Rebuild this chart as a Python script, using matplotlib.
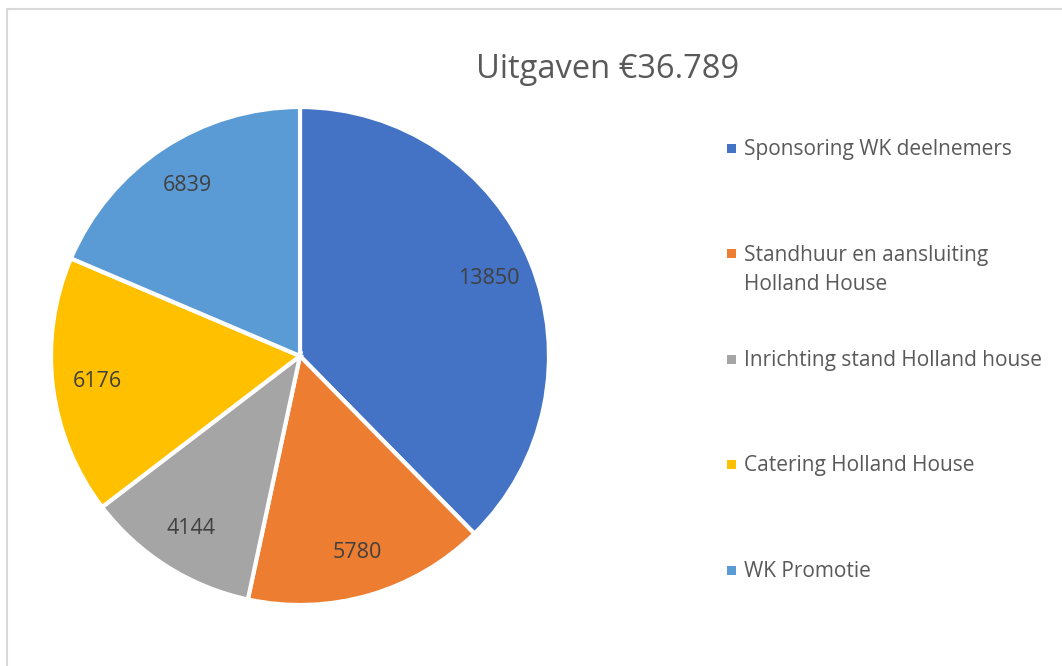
import matplotlib.pyplot as plt
from matplotlib.patches import Rectangle

plt.rcParams['font.family'] = ['Open Sans', 'DejaVu Sans']

categories = [
    "Sponsoring WK deelnemers",
    "Standhuur en aansluiting\nHolland House",
    "Inrichting stand Holland house",
    "Catering Holland House",
    "WK Promotie",
]
values = [13850, 5780, 4144, 6176, 6839]
colors = ["#4472C4", "#ED7D31", "#A5A5A5", "#FFC000", "#5B9BD5"]
title = "Uitgaven €36.789"

W, H = 1062, 666
fig = plt.figure(figsize=(W / 100, H / 100), dpi=100)

# light grey chart border (right/bottom cut off like in the screenshot)
fig.patches.append(Rectangle((7 / W, -0.05), 1.1, 1 - 9 / H + 0.05,
                             transform=fig.transFigure, fill=False,
                             edgecolor="#D9D9D9", linewidth=1.5))

# pie axes: center ~(300, 356) px, radius ~249 px
cx, cy, r = 300, 356, 249
ax = fig.add_axes([(cx - r) / W, (H - cy - r) / H, 2 * r / W, 2 * r / H])
total = sum(values)
wedges, texts, autotexts = ax.pie(
    values, colors=colors, startangle=90, counterclock=False,
    autopct=lambda p: f"{round(p * total / 100)}", pctdistance=0.82,
    wedgeprops=dict(edgecolor="white", linewidth=3),
    textprops=dict(color="#404040", fontsize=15.5))
for w in wedges:
    w.set_clip_on(False)
ax.set_xlim(-1, 1)
ax.set_ylim(-1, 1)
ax.set_aspect("equal")
ax.axis("off")

fig.text(608 / W, 1 - 69 / H, title, ha="center", va="center",
         fontsize=23.5, color="#595959")

# legend, drawn by hand to mimic Excel's even spacing
y0, step = 148, 105.5
for i, (lab, col) in enumerate(zip(categories, colors)):
    y = y0 + i * step
    fig.patches.append(Rectangle((727 / W, 1 - (y + 4.5) / H), 9 / W, 9 / H,
                                 transform=fig.transFigure, facecolor=col,
                                 edgecolor="none"))
    fig.text(744 / W, 1 - (y - 9) / H, lab, ha="left", va="top",
             fontsize=15, color="#595959", linespacing=1.55)

plt.savefig("out.png", dpi=100)
